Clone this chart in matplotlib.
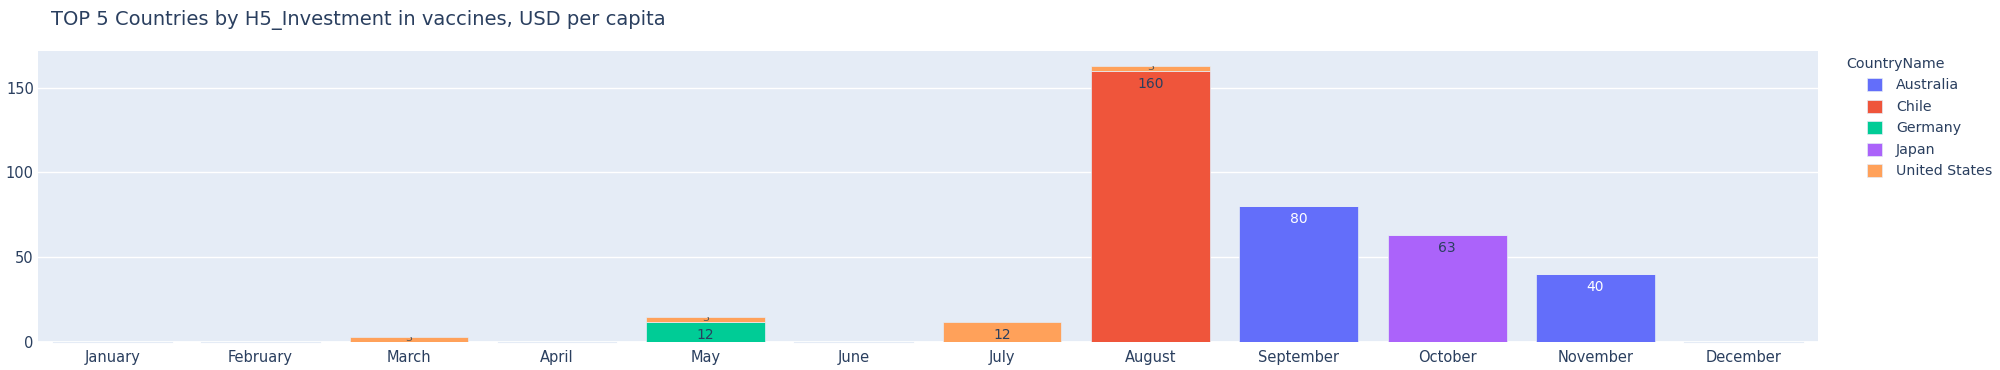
import matplotlib
matplotlib.use("Agg")
import matplotlib.pyplot as plt
import numpy as np

months = ["January", "February", "March", "April", "May", "June", "July",
          "August", "September", "October", "November", "December"]
countries = ["Australia", "Chile", "Germany", "Japan", "United States"]
australia = [0, 0, 0, 0, 0, 0, 0, 0, 80, 0, 40, 0]
chile = [0, 0, 0, 0, 0, 0, 0, 160, 0, 0, 0, 0]
germany = [0, 0, 0, 0, 12, 0, 0, 0, 0, 0, 0, 0]
japan = [0, 0, 0, 0, 0, 0, 0, 0, 0, 63, 0, 0]
united_states = [0, 0, 3, 0, 3, 0, 12, 3, 0, 0, 0, 0]

series = [australia, chile, germany, japan, united_states]
colors = ["#636EFA", "#EF553B", "#00CC96", "#AB63FA", "#FFA15A"]
label_colors = ["white", "#2a3f5f", "#2a3f5f", "#2a3f5f", "#2a3f5f"]

TXT = "#2a3f5f"
BG = "#E5ECF6"
plt.rcParams["font.family"] = ["DejaVu Sans"]

fig = plt.figure(figsize=(20, 3.7), dpi=100)
ax = fig.add_axes([0.019, 0.0757, 0.890, 0.7865])
ax.set_facecolor(BG)

x = np.arange(len(months))
bottom = np.zeros(len(months))
handles = []
for name, vals, col, lc in zip(countries, series, colors, label_colors):
    vals = np.array(vals, dtype=float)
    bars = ax.bar(x, vals, 0.8, bottom=bottom, color=col, edgecolor=BG,
                  linewidth=0.5, label=name, zorder=3)
    handles.append(bars)
    for i, b in enumerate(bars):
        v = vals[i]
        if v <= 0:
            continue
        top = bottom[i] + v
        if v < 5:
            # label doesn't fit the thin bar, only a clipped piece shows
            t = ax.text(x[i], bottom[i] + 0.6, f"{v:.0f}", ha="center",
                        va="baseline", fontsize=8, color="#555555", zorder=4,
                        clip_on=True)
            t.set_clip_path(b)
        else:
            ax.annotate(f"{v:.0f}", (x[i], top), xytext=(0, -13),
                        textcoords="offset pixels", ha="center", va="center",
                        fontsize=10, color=lc, zorder=4)
    bottom += vals

# zero-height bars for empty months
empty = bottom == 0
ax.axhline(0, color="white", lw=2, zorder=2, clip_on=False)
for i in x[empty]:
    ax.plot([i - 0.4, i + 0.4], [0, 0], color=BG, lw=0.8, zorder=3,
            clip_on=False)

ax.set_xlim(-0.5, 11.5)
ax.set_ylim(0, 171.6)
ax.set_yticks([0, 50, 100, 150])
ax.grid(axis="y", color="white", lw=1, zorder=1)
ax.set_xticks(x)
ax.set_xticklabels(months)
ax.tick_params(length=0, labelsize=10.5, colors=TXT, pad=6)
ax.tick_params(axis="y", pad=3)
for s in ax.spines.values():
    s.set_visible(False)

fig.text(0.0255, 0.946, "TOP 5 Countries by H5_Investment in vaccines, USD per capita",
         fontsize=14, color=TXT, ha="left", va="center")

fig.text(0.923, 0.827, "CountryName", fontsize=10.3, color=TXT,
         ha="left", va="center")
leg = fig.legend(handles=handles, labels=countries,
                 loc="upper left", bbox_to_anchor=(0.9335, 0.789),
                 frameon=False, fontsize=10.2,
                 handlelength=1.05, handleheight=1.05, handletextpad=1.0,
                 labelspacing=0.5, labelcolor=TXT, borderpad=0,
                 borderaxespad=0)

fig.savefig("out.png", dpi=100)
